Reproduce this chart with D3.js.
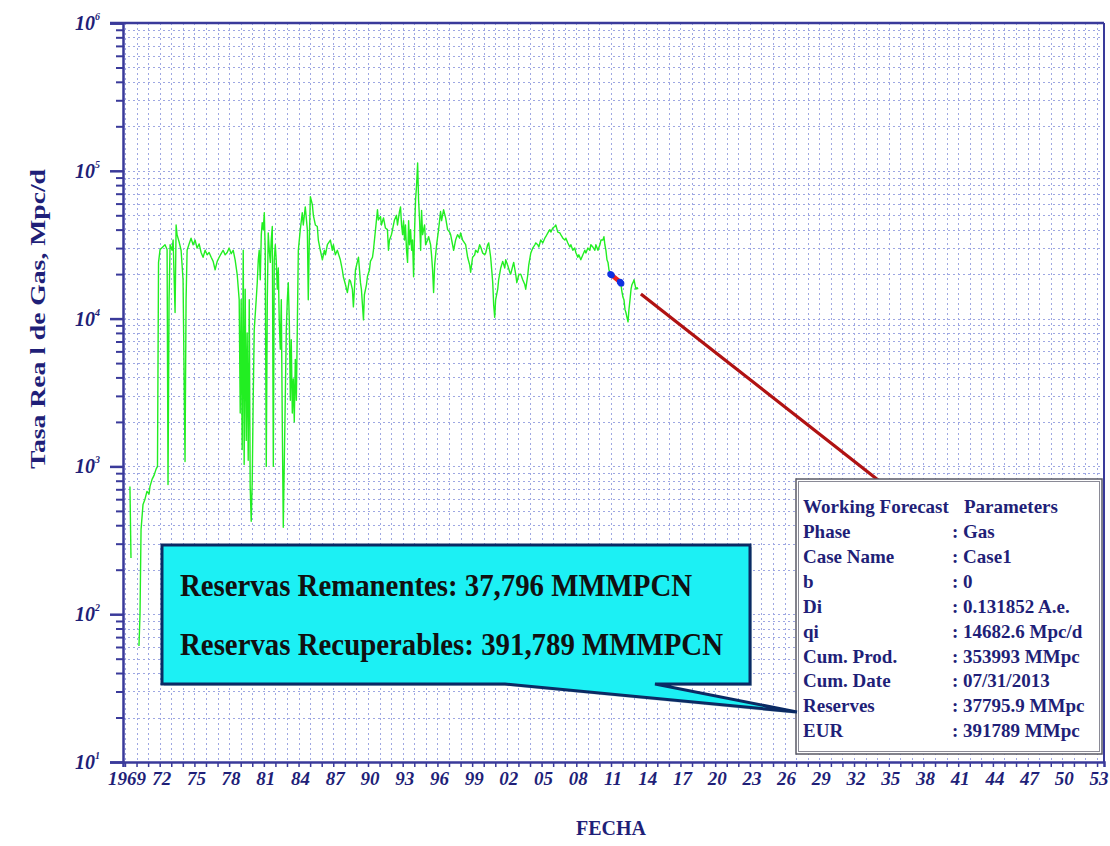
<!DOCTYPE html>
<html>
<head>
<meta charset="utf-8">
<script src="https://cdn.jsdelivr.net/npm/d3@7"></script>
<style>
  body { margin: 0; background: #ffffff; }
  svg { display: block; }
</style>
</head>
<body>
<svg id="chart" width="1110" height="846"></svg>
<script>
// ---- Data -------------------------------------------------------------
// Early test period (separate, disconnected segment)
const testPeriod = [[1969.43, 730], [1969.52, 240]];

// Gas rate history, Mpc/d, by decimal year
const production = [
  [1970.21,61],[1970.30,100],[1970.39,375],[1970.56,553],[1970.73,600],[1970.90,678],[1971.08,650],
  [1971.16,730],[1971.34,817],[1971.51,869],[1971.68,955],[1971.81,1000],[1971.90,23900],[1972.03,29300],
  [1972.20,30200],[1972.46,31600],[1972.64,29300],[1972.72,755],[1972.81,13400],[1972.90,31600],[1973.07,29000],
  [1973.16,34000],[1973.33,11000],[1973.42,43000],[1973.50,37000],[1973.68,33000],[1973.85,29000],[1974.02,18300],
  [1974.19,1080],[1974.28,13400],[1974.37,29000],[1974.54,32000],[1974.71,35000],[1974.89,31600],[1975.06,34000],
  [1975.23,30000],[1975.41,32000],[1975.58,28000],[1975.75,26000],[1975.93,29000],[1976.10,27000],[1976.27,28000],
  [1976.45,26000],[1976.62,24400],[1976.79,21400],[1976.97,24400],[1977.14,26000],[1977.31,27500],[1977.48,29000],
  [1977.66,27000],[1977.83,28000],[1978.00,30000],[1978.18,27500],[1978.35,29000],[1978.52,25000],[1978.70,19800],
  [1978.78,16500],[1978.87,13400],[1978.96,2300],[1979.04,13400],[1979.13,1300],[1979.22,29000],[1979.30,1030],
  [1979.39,15800],[1979.48,1500],[1979.56,8000],[1979.65,1100],[1979.74,13400],[1979.82,730],[1979.91,425],
  [1980.00,820],[1980.08,2800],[1980.17,8400],[1980.34,13400],[1980.43,17500],[1980.52,25000],[1980.60,29000],
  [1980.69,18300],[1980.78,37000],[1980.86,44600],[1980.95,40000],[1981.04,52000],[1981.12,29000],[1981.21,1000],
  [1981.30,13400],[1981.38,38000],[1981.47,29000],[1981.56,24000],[1981.64,34000],[1981.73,42000],[1981.82,1000],
  [1981.90,25000],[1981.99,31600],[1982.07,25000],[1982.16,15800],[1982.25,22000],[1982.33,9800],[1982.42,6200],
  [1982.51,13400],[1982.59,2100],[1982.68,387],[1982.77,1100],[1982.85,2800],[1982.94,8400],[1983.03,13400],
  [1983.11,17500],[1983.20,9800],[1983.29,2800],[1983.37,7200],[1983.46,2300],[1983.55,3900],[1983.63,2000],
  [1983.72,5300],[1983.81,2800],[1983.89,8400],[1983.98,29000],[1984.15,40000],[1984.32,52000],[1984.41,43000],
  [1984.58,57000],[1984.76,40000],[1984.84,13400],[1984.93,34000],[1985.02,66800],[1985.19,59000],[1985.28,50000],
  [1985.45,43000],[1985.62,42000],[1985.71,34000],[1985.88,29000],[1986.06,25000],[1986.23,29000],[1986.32,27000],
  [1986.49,31600],[1986.75,34000],[1986.92,29000],[1987.01,31600],[1987.18,27000],[1987.35,29000],[1987.61,25000],
  [1987.78,21400],[1987.87,19200],[1988.05,17000],[1988.22,15000],[1988.39,18300],[1988.48,18000],[1988.65,15800],
  [1988.74,12000],[1988.92,21400],[1989.09,24400],[1989.18,26000],[1989.35,17500],[1989.43,15800],[1989.61,9800],
  [1989.69,14500],[1989.87,17000],[1989.95,19200],[1990.13,21400],[1990.21,24400],[1990.39,26000],[1990.47,29000],
  [1990.65,40000],[1990.82,54500],[1990.90,46500],[1991.08,49000],[1991.16,43000],[1991.34,48000],[1991.51,41000],
  [1991.68,40000],[1991.77,29000],[1991.86,34000],[1992.03,37000],[1992.12,40000],[1992.29,46500],[1992.46,50000],
  [1992.55,43000],[1992.72,53000],[1992.81,57000],[1992.90,43000],[1992.99,37000],[1993.07,46000],[1993.16,34000],
  [1993.24,43000],[1993.33,29000],[1993.42,24000],[1993.51,46000],[1993.59,31600],[1993.68,40000],[1993.77,29000],
  [1993.85,34000],[1993.94,19200],[1994.03,40000],[1994.11,63700],[1994.20,80000],[1994.29,113000],[1994.37,64000],
  [1994.46,46000],[1994.55,29000],[1994.63,54000],[1994.72,37000],[1994.89,43000],[1994.98,31600],[1995.15,34000],
  [1995.24,35800],[1995.41,31600],[1995.49,27000],[1995.58,21400],[1995.67,15000],[1995.76,23000],[1995.93,31600],
  [1996.10,40000],[1996.27,53000],[1996.36,46000],[1996.53,54500],[1996.71,48000],[1996.88,40000],[1997.05,38500],
  [1997.14,37000],[1997.31,31600],[1997.40,29000],[1997.57,34000],[1997.74,37000],[1997.92,35000],[1998.00,38000],
  [1998.18,34000],[1998.44,31600],[1998.61,26000],[1998.79,23000],[1998.87,20600],[1999.04,26000],[1999.22,27000],
  [1999.30,29000],[1999.48,28000],[1999.65,31600],[1999.74,30500],[1999.91,27800],[2000.08,27000],[2000.17,27800],
  [2000.34,31600],[2000.43,32500],[2000.52,29000],[2000.60,26000],[2000.69,21400],[2000.78,17500],[2000.86,12400],
  [2000.95,10200],[2001.03,13400],[2001.21,15800],[2001.29,18300],[2001.47,22000],[2001.64,24400],[2001.82,22000],
  [2001.90,25000],[2002.07,23000],[2002.25,20600],[2002.33,20000],[2002.51,22700],[2002.59,24000],[2002.77,19800],
  [2002.86,17500],[2003.03,19800],[2003.20,20000],[2003.37,18300],[2003.55,17000],[2003.63,15800],[2003.81,19800],
  [2003.89,23000],[2004.07,27800],[2004.24,30000],[2004.42,31600],[2004.50,32500],[2004.67,31600],[2004.76,30500],
  [2004.93,34000],[2005.10,32500],[2005.28,35000],[2005.36,35800],[2005.54,38000],[2005.71,40000],[2005.80,38500],
  [2005.97,41000],[2006.14,42000],[2006.23,43000],[2006.40,38500],[2006.58,38000],[2006.66,37000],[2006.84,35000],
  [2007.01,34000],[2007.10,35000],[2007.27,32500],[2007.44,30500],[2007.53,31600],[2007.70,29000],[2007.87,30000],
  [2007.96,28000],[2008.13,26000],[2008.22,27000],[2008.39,25000],[2008.57,27000],[2008.74,29000],[2008.83,27800],
  [2009.00,30000],[2009.17,29000],[2009.26,31600],[2009.43,30500],[2009.61,29000],[2009.69,31600],[2009.87,29000],
  [2010.04,31600],[2010.13,34000],[2010.30,34000],[2010.39,35800],[2010.47,31600],[2010.56,29000],[2010.65,25000],
  [2010.74,24000],[2010.82,21400],[2010.91,20600],[2011.08,19800],[2011.26,19200],[2011.43,18800],[2011.60,18300],
  [2011.77,17500],[2011.86,17000],[2011.94,15300],[2012.03,14000],[2012.12,13400],[2012.21,11500],[2012.29,11000],
  [2012.38,10200],[2012.47,9500],[2012.55,11500],[2012.64,13400],[2012.73,15800],[2012.81,17000],[2012.90,17500],
  [2012.99,18300],[2013.07,17000],[2013.16,15800],[2013.25,16200],[2013.33,15800]
];

// Exponential forecast (b = 0) from qi at the cumulative date to the economic limit
const forecastYears = [2013.58, 2020, 2030, 2040, 2053.2];
const forecastRates = [14682.6, 5923, 1440, 350, 54];

// Points selected for the decline fit
const fitYears = [2010.95, 2011.05, 2011.78, 2011.88];
const fitRates = [20000, 19700, 17700, 17300];

// Axis ticks
const xLabelYears = [1969,1972,1975,1978,1981,1984,1987,1990,1993,1996,1999,2002,2005,2008,
                     2011,2014,2017,2020,2023,2026,2029,2032,2035,2038,2041,2044,2047,2050,2053];
const xLabelText  = ["1969","72","75","78","81","84","87","90","93","96","99","02","05","08",
                     "11","14","17","20","23","26","29","32","35","38","41","44","47","50","53"];
const yDecades   = [10, 100, 1000, 10000, 100000, 1000000];
const yExponents = ["1", "2", "3", "4", "5", "6"];

// Parameter box
const paramLabels = ["Phase", "Case Name", "b", "Di", "qi", "Cum. Prod.", "Cum. Date", "Reserves", "EUR"];
const paramValues = [": Gas", ": Case1", ": 0", ": 0.131852 A.e.", ": 14682.6 Mpc/d",
                     ": 353993 MMpc", ": 07/31/2013", ": 37795.9 MMpc", ": 391789 MMpc"];

// Callout text
const calloutLines = ["Reservas Remanentes: 37,796 MMMPCN", "Reservas Recuperables: 391,789 MMMPCN"];

// ---- Layout -----------------------------------------------------------
const plot = { left: 123, right: 1104, top: 23, bottom: 762 };
const navy = "#1f1f78";
const axisColor = "#3a3a9a";
const serif = "'Liberation Serif', 'Times New Roman', serif";

const svg = d3.select("#chart");

const x = d3.scaleLinear().domain([1968.83, 2053.6]).range([plot.left, plot.right]);
const y = d3.scaleLog().domain([10, 1e6]).range([plot.bottom, plot.top]);

// Grid values: every year, every log sub-division
const yearTicks = d3.range(1969, 2054);
const yMinor = [];
yDecades.slice(0, -1).forEach(d => { for (let k = 2; k <= 9; k++) yMinor.push(d * k); });
const yGridVals = yDecades.concat(yMinor);

const grid = svg.append("g").attr("class", "grid")
  .attr("stroke", "#9ea7e2").attr("stroke-width", 1).attr("stroke-dasharray", "2,3");
grid.selectAll("line.v").data(yearTicks).join("line").attr("class", "v")
  .attr("x1", d => Math.round(x(d)) + 0.5).attr("x2", d => Math.round(x(d)) + 0.5)
  .attr("y1", plot.top).attr("y2", plot.bottom);
grid.selectAll("line.h").data(yGridVals).join("line").attr("class", "h")
  .attr("y1", d => Math.round(y(d)) + 0.5).attr("y2", d => Math.round(y(d)) + 0.5)
  .attr("x1", plot.left).attr("x2", plot.right);

// ---- Axes -------------------------------------------------------------
const xAxis = d3.axisBottom(x).tickValues(yearTicks).tickSize(5).tickFormat("");
const gx = svg.append("g").attr("transform", `translate(0,${plot.bottom})`).call(xAxis);
gx.select(".domain").attr("stroke", axisColor).attr("stroke-width", 2.5);
gx.selectAll(".tick line").attr("stroke", axisColor).attr("stroke-width", 1.5);

svg.append("g").selectAll("text").data(xLabelYears).join("text")
  .attr("x", d => x(d) + 2).attr("y", 785)
  .attr("text-anchor", "middle")
  .attr("font-family", serif).attr("font-style", "italic").attr("font-weight", "bold")
  .attr("font-size", 19).attr("fill", navy)
  .text((d, i) => xLabelText[i]);

const yMinorAxis = d3.axisLeft(y).tickValues(yMinor).tickSize(7).tickFormat("");
const gyMinor = svg.append("g").attr("transform", `translate(${plot.left},0)`).call(yMinorAxis);
gyMinor.select(".domain").remove();
gyMinor.selectAll(".tick line").attr("stroke", axisColor).attr("stroke-width", 2);

const yMajorAxis = d3.axisLeft(y).tickValues(yDecades).tickSize(13).tickFormat("");
const gyMajor = svg.append("g").attr("transform", `translate(${plot.left},0)`).call(yMajorAxis);
gyMajor.select(".domain").attr("stroke", axisColor).attr("stroke-width", 2.5);
gyMajor.selectAll(".tick line").attr("stroke", axisColor).attr("stroke-width", 2.5);

const yLab = svg.append("g").selectAll("text").data(yDecades).join("text")
  .attr("x", 100).attr("y", d => y(d) + 7)
  .attr("text-anchor", "end")
  .attr("font-family", serif).attr("font-style", "italic").attr("font-weight", "bold")
  .attr("font-size", 20).attr("fill", navy);
yLab.append("tspan").text("10");
yLab.append("tspan").attr("dy", -10).attr("font-size", 10).text((d, i) => yExponents[i]);

// Frame: top and right borders
svg.append("line").attr("x1", plot.left - 13).attr("x2", plot.right)
  .attr("y1", plot.top).attr("y2", plot.top)
  .attr("stroke", axisColor).attr("stroke-width", 2.5);
svg.append("line").attr("x1", plot.right).attr("x2", plot.right)
  .attr("y1", plot.top).attr("y2", plot.bottom)
  .attr("stroke", axisColor).attr("stroke-width", 2);

// Axis titles
svg.append("text")
  .attr("transform", `translate(45,${319}) rotate(-90)`)
  .attr("text-anchor", "middle")
  .attr("font-family", serif).attr("font-weight", "bold").attr("font-size", 22).attr("fill", navy)
  .attr("textLength", 300).attr("lengthAdjust", "spacingAndGlyphs")
  .text("Tasa Rea l de Gas, Mpc/d");

svg.append("text")
  .attr("x", 611).attr("y", 835).attr("text-anchor", "middle")
  .attr("font-family", serif).attr("font-weight", "bold").attr("font-size", 20).attr("fill", navy)
  .text("FECHA");

// ---- Series -----------------------------------------------------------
const line = d3.line().x(d => x(d[0])).y(d => y(d[1]));

svg.append("path").datum(testPeriod).attr("d", line)
  .attr("fill", "none").attr("stroke", "#22ee22").attr("stroke-width", 1.4);
svg.append("path").datum(production).attr("d", line)
  .attr("fill", "none").attr("stroke", "#22ee22").attr("stroke-width", 1.4)
  .attr("stroke-linejoin", "round");

const forecast = forecastYears.map((t, i) => [t, forecastRates[i]]);
svg.append("path").datum(forecast).attr("d", line)
  .attr("fill", "none").attr("stroke", "#b01212").attr("stroke-width", 3.2);

// Fit interval: red segment between the selected points
const fitPts = fitYears.map((t, i) => [t, fitRates[i]]);
svg.append("path").datum(fitPts).attr("d", line)
  .attr("fill", "none").attr("stroke", "#ee2020").attr("stroke-width", 4.5);
svg.append("g").selectAll("circle").data(fitPts).join("circle")
  .attr("cx", d => x(d[0])).attr("cy", d => y(d[1])).attr("r", 3.2)
  .attr("fill", "#1030e0");

// ---- Parameter box ----------------------------------------------------
const box = { x: 796, y: 479, w: 306, h: 275 };
svg.append("rect").attr("x", box.x).attr("y", box.y).attr("width", box.w).attr("height", box.h)
  .attr("fill", "#ffffff").attr("stroke", "#5a5a66").attr("stroke-width", 1.5);
svg.append("rect").attr("x", box.x + 2.5).attr("y", box.y + 2.5).attr("width", box.w - 5).attr("height", box.h - 5)
  .attr("fill", "none").attr("stroke", "#8a8a96").attr("stroke-width", 1);

const pText = svg.append("g")
  .attr("font-family", serif).attr("font-weight", "bold").attr("font-size", 19).attr("fill", navy);
pText.append("text").attr("x", 803).attr("y", 513).text("Working Forecast");
pText.append("text").attr("x", 964).attr("y", 513).text("Parameters");
pText.selectAll("text.lab").data(paramLabels).join("text").attr("class", "lab")
  .attr("x", 803).attr("y", (d, i) => 538 + i * 24.9).text(d => d);
pText.selectAll("text.val").data(paramValues).join("text").attr("class", "val")
  .attr("x", 952).attr("y", (d, i) => 538 + i * 24.9).text(d => d);

// ---- Callout ----------------------------------------------------------
const cb = { x: 162, y: 545, w: 588, h: 139 };
const tip = [797, 712];
const callout = d3.path();
callout.moveTo(cb.x, cb.y);
callout.lineTo(cb.x + cb.w, cb.y);
callout.lineTo(cb.x + cb.w, cb.y + cb.h);
callout.lineTo(655, cb.y + cb.h);
callout.lineTo(tip[0], tip[1]);
callout.lineTo(505, cb.y + cb.h);
callout.lineTo(cb.x, cb.y + cb.h);
callout.closePath();
svg.append("path").attr("d", callout.toString())
  .attr("transform", "translate(2,2)")
  .attr("fill", "#7fa6b8").attr("opacity", 0.5);
svg.append("path").attr("d", callout.toString())
  .attr("fill", "#1cf0f4").attr("stroke", "#0b2a63").attr("stroke-width", 3)
  .attr("stroke-linejoin", "miter");

svg.append("g").selectAll("text").data(calloutLines).join("text")
  .attr("x", 180).attr("y", (d, i) => 596 + i * 59)
  .attr("font-family", serif).attr("font-weight", "bold").attr("font-size", 31).attr("fill", "#111111")
  .attr("textLength", (d, i) => [512, 543][i]).attr("lengthAdjust", "spacingAndGlyphs")
  .text(d => d);
</script>
</body>
</html>
